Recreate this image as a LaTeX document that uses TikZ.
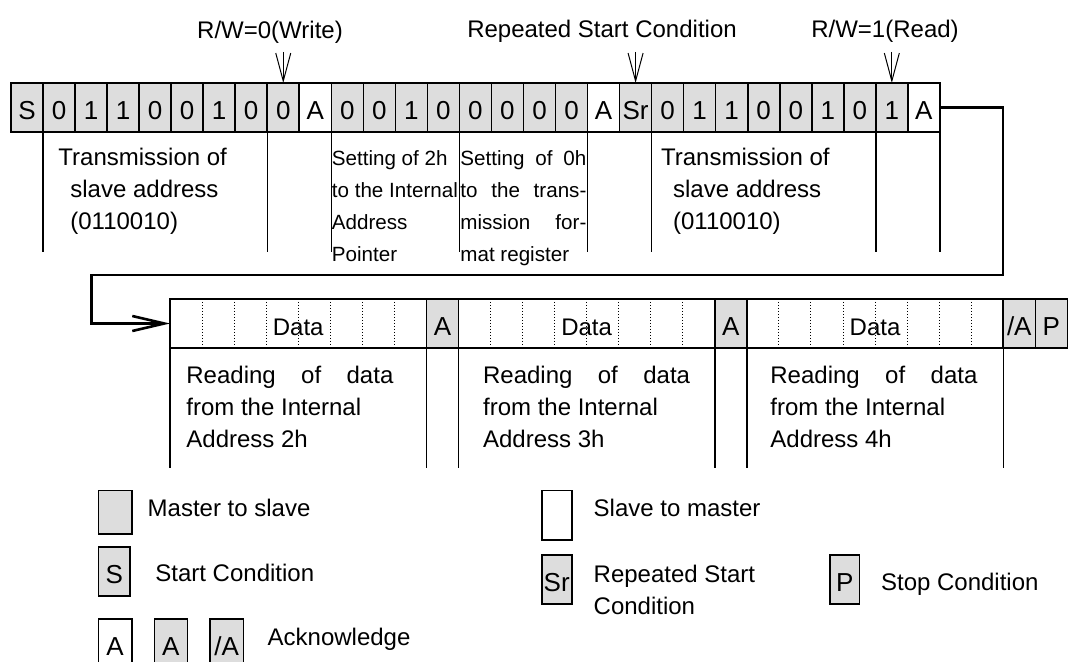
\documentclass[tikz,border=0pt]{standalone}
\usepackage{fontspec}
\setmainfont{Liberation Sans}
\usepackage{tikz}
\usetikzlibrary{positioning,arrows.meta}
\definecolor{mgray}{RGB}{221,221,221}

\begin{document}
\begin{tikzpicture}[x=0.5pt,y=-0.5pt,
    bitcell/.style={draw, line width=0.8pt, fill=mgray, minimum width=16.015pt, minimum height=24.5pt,
        inner sep=0pt, outer sep=0pt, text height=11.8pt, text depth=0pt, font=\fontsize{13}{15}\selectfont},
    bytecell/.style={bitcell, fill=white, minimum width=128.2pt, font=\fontsize{12}{14}\selectfont},
    desc/.style={anchor=north west, inner sep=0pt, align=left, font=\fontsize{12}{16}\selectfont},
    smalldesc/.style={desc, font=\fontsize{10.3}{16}\selectfont},
    tag/.style={inner sep=0pt, font=\fontsize{12}{14}\selectfont},
    pointer/.style={-{Straight Barb[length=14pt,width=7.5pt]}, line width=0.5pt},
    sepline/.style={line width=0.7pt}]
    \useasboundingbox (0,0) rectangle (1081,662);
    \clip (0,0) rectangle (1081,662);

    \foreach \lab/\col [count=\i from 0] in {S/mgray,0/mgray,1/mgray,1/mgray,0/mgray,0/mgray,1/mgray,0/mgray,0/mgray,A/white,
        0/mgray,0/mgray,1/mgray,0/mgray,0/mgray,0/mgray,0/mgray,0/mgray,A/white,Sr/mgray,
        0/mgray,1/mgray,1/mgray,0/mgray,0/mgray,1/mgray,0/mgray,1/mgray,A/white}
        \node[bitcell, fill=\col] (t\i) at ({11+(\i+0.5)*32.03},107.5) {\lab};

    \node[tag, anchor=base] (rw0) at (270,38.5) {R/W=0(Write)};
    \node[tag, anchor=base] (rsc) at (602,37.5) {Repeated Start Condition};
    \node[tag, anchor=base] (rw1) at (885,38) {R/W=1(Read)};
    \coordinate (rw0s) at ([yshift=15.5pt]t8.north);
    \coordinate (rscs) at ([yshift=15.5pt]t19.north);
    \coordinate (rw1s) at ([yshift=15.5pt]t27.north);
    \draw[pointer] (rw0s) -- (t8.north);
    \draw[pointer] (rscs) -- (t19.north);
    \draw[pointer] (rw1s) -- (t27.north);

    \foreach \k in {1,8,10,14,18,20,27}
        \draw[sepline] (t\k.south west) -- ++(0,120);
    \draw[sepline] (t28.south east) -- ++(0,120);

    \node[desc] (txa) at (58,147.5) {Transmission of\\\hspace*{6pt}slave address\\\hspace*{6pt}(0110010)};
    \node[smalldesc] (set2) at (331.5,150.5) {Setting of 2h\\to the Internal\\Address\\Pointer};
    \node[smalldesc] (set0) at (460,150.5) {\makebox[63pt][s]{Setting of 0h}\\\makebox[63pt][s]{to the trans-}\\\makebox[63pt][s]{mission for-}\\mat register};
    \node[desc] (txb) at (660.7,147.5) {Transmission of\\\hspace*{6pt}slave address\\\hspace*{6pt}(0110010)};

    \node[bytecell] (d1) at (298.2,323.5) {Data\hspace{5pt}};
    \node[bitcell, right=0pt of d1] (a1) {A};
    \node[bytecell, right=0pt of a1] (d2) {Data\hspace{5pt}};
    \node[bitcell, right=0pt of d2] (a2) {A};
    \node[bytecell, right=0pt of a2] (d3) {Data\hspace{5pt}};
    \node[bitcell, right=0pt of d3] (na) {/A};
    \node[bitcell, right=0pt of na] (p) {P};

    \foreach \d in {d1,d2,d3}
        \foreach \k in {1,...,7}
            \draw[line width=0.5pt, dash pattern=on 0.5pt off 1pt]
                ([xshift=\k*16.025pt, yshift=-1.5pt]\d.north west) -- ([xshift=\k*16.025pt, yshift=1.5pt]\d.south west);

    \coordinate (turnR) at (1003,275);
    \coordinate (turnL) at (91.7,275);
    \draw[line width=1.3pt, -{Straight Barb[length=16pt,width=7.5pt]}] (t28.east) -| (turnR) -- (turnL) |- (d1.west);

    \foreach \c in {d1.south west, a1.south west, a1.south east, d2.south east, a2.south east, d3.south east}
        \draw[sepline] (\c) -- ++(0,120);

    \node[desc] (rd1) at (186,365.5) {\makebox[103.5pt][s]{Reading of data}\\from the Internal\\Address 2h};
    \node[desc] (rd2) at (482.7,365.5) {\makebox[103.5pt][s]{Reading of data}\\from the Internal\\Address 3h};
    \node[desc] (rd3) at (770,365.5) {\makebox[103.5pt][s]{Reading of data}\\from the Internal\\Address 4h};

    \node[bitcell, minimum width=16.7pt, minimum height=21.7pt] (lgm) at (115,512.3) {};
    \node[tag, anchor=base west] (lgmt) at (147.3,516.5) {Master to slave};
    \node[bitcell, minimum width=15.85pt] (lgs) at (114.2,571.3) {S};
    \node[tag, anchor=base west] (lgst) at (155,581.7) {Start Condition};
    \node[bitcell, fill=white, minimum width=16.7pt] (lga1) at (115,643.5) {A};
    \node[bitcell, minimum width=16.5pt] (lga2) at (170.8,643.5) {A};
    \node[bitcell, minimum width=16.65pt] (lga3) at (226.7,643.5) {/A};
    \node[tag, anchor=base west] (lgat) at (267.3,645) {Acknowledge};

    \node[bitcell, fill=white, minimum width=15pt, minimum height=24.65pt] (lgsm) at (556.7,515.3) {};
    \node[tag, anchor=base west] (lgsmt) at (593.3,516.5) {Slave to master};
    \node[bitcell, minimum width=15pt, minimum height=24.65pt] (lgsr) at (556.7,579.5) {Sr};
    \node[desc] (lgsrt) at (593.3,564.5) {Repeated Start\\Condition};
    \node[bitcell, minimum width=14.65pt, minimum height=24.65pt] (lgp) at (844.7,579.5) {P};
    \node[tag, anchor=base west] (lgpt) at (880.7,590) {Stop Condition};
\end{tikzpicture}
\end{document}
